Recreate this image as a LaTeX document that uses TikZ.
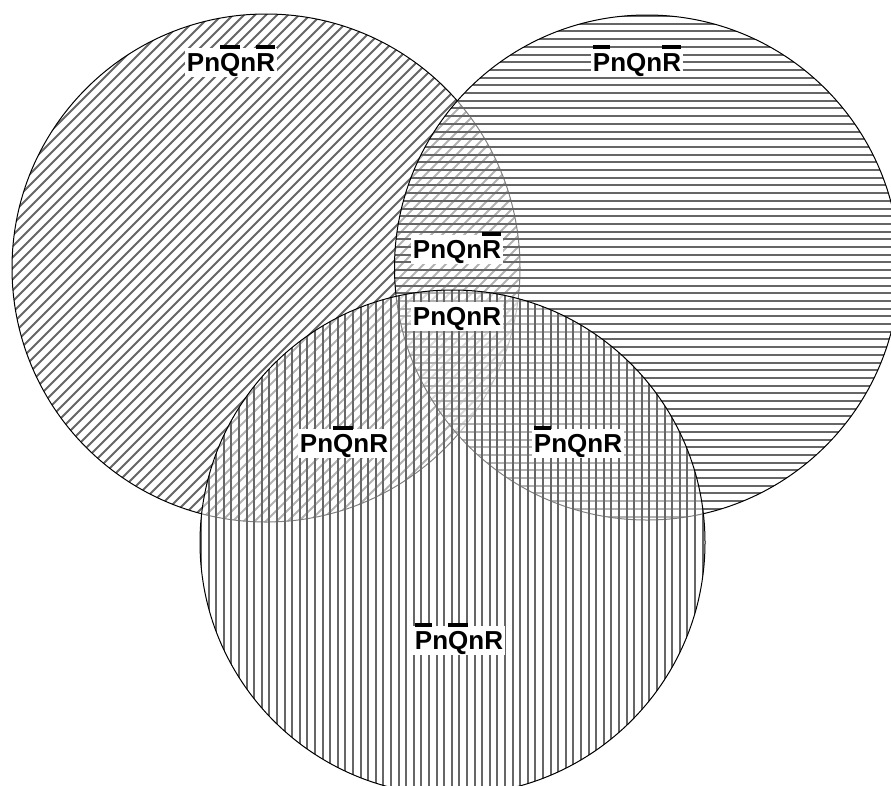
\documentclass[tikz,border=0pt]{standalone}
\usepackage{fontspec}
\setmainfont{Liberation Sans}
\newcommand{\ob}[1]{\setbox0\hbox{#1}\rlap{\smash{\rule[0.86em]{\wd0}{0.15em}}}\box0}
\tikzset{
  hatch/.style={line width=2pt, draw=black!60},
  rim/.style={draw=black, line width=1pt},
  veil/.style={fill=white, fill opacity=0.5},
  lab/.style={fill=white, inner xsep=2pt, inner ysep=0pt, text height=23pt, text depth=6pt,
    font=\fontsize{26}{30}\selectfont\bfseries, anchor=base}
}
\begin{document}
\begin{tikzpicture}[x=1pt,y=-1pt]
\useasboundingbox (0,0) rectangle (891,785);
\coordinate (cP) at (266,268);
\coordinate (cQ) at (647,267.5);
\coordinate (cR) at (452.5,542.5);
% circle P (diagonal)
\begin{scope}
  \clip (cP) circle[radius=254];
  \foreach \i in {-363,-352,...,363}
    \draw[hatch] (266+\i-400,268+400) -- (266+\i+400,268-400);
\end{scope}
\draw[rim] (cP) circle[radius=254];
% circle Q (horizontal)
\begin{scope}
  \clip (cQ) circle[radius=252.5];
  \fill[veil] (cQ) circle[radius=252.5];
  \foreach \y in {16,23.7,...,522}
    \draw[hatch] (390,\y) -- (905,\y);
\end{scope}
\draw[rim] (cQ) circle[radius=252.5];
% circle R (vertical)
\begin{scope}
  \clip (cR) circle[radius=252.5];
  \fill[veil] (cR) circle[radius=252.5];
  \foreach \x in {201,208.6,...,706}
    \draw[hatch] (\x,285) -- (\x,800);
\end{scope}
\draw[rim] (cR) circle[radius=252.5];
% labels
\node[lab] (l1) at (231,71) {Pn\ob{Q}n\ob{R}};
\node[lab] (l2) at (637,71) {\ob{P}nQn\ob{R}};
\node[lab] (l3) at (457,258) {PnQn\ob{R}};
\node[lab] (l4) at (457,325) {PnQnR};
\node[lab] (l5) at (344,452) {Pn\ob{Q}nR};
\node[lab] (l6) at (578,452) {\ob{P}nQnR};
\node[lab] (l7) at (459,649) {\ob{P}n\ob{Q}nR};
\end{tikzpicture}
\end{document}
